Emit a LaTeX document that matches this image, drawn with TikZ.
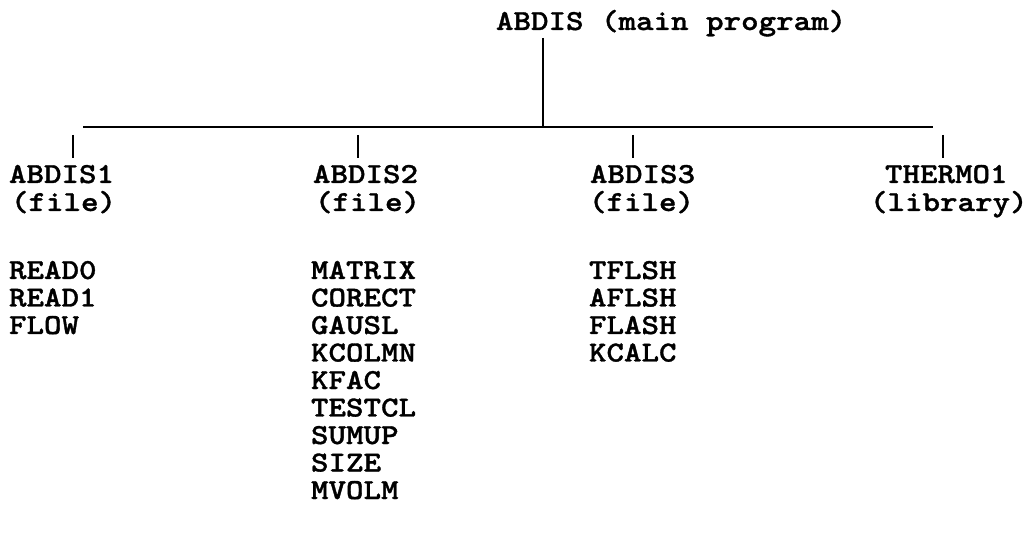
\documentclass[tikz,border=0pt]{standalone}
\usepackage{fontspec}
\newfontfamily\tw{lmmonolt10-bold.otf}[FakeStretch=1.15,FakeBold=1.2]
\begin{document}
\begin{tikzpicture}[x=1pt,y=-1pt,
  lbl/.style={anchor=base west,inner sep=0pt,outer sep=0pt,font=\tw\fontsize{29}{27.5}\selectfont},
  conn/.style={line width=1.8pt},
  tick/.style={line width=1.8pt}]
\useasboundingbox (0,0) rectangle (1034,537);
% title
\node[lbl] (main) at (496,30) {ABDIS (main program)};
\coordinate (mainfoot) at (543,38);
\coordinate (barL) at (83,127);
\coordinate (barR) at (933,127);
\coordinate (barM) at (543,127);
\draw[conn] (mainfoot) -- (barM);
\draw[conn] (barL) -- (barR);
% column headers
\node[lbl] (c1) at (9,183) {ABDIS1};
\node[lbl] (c1b) at (11,211) {(file)};
\node[lbl] (c2) at (313,183) {ABDIS2};
\node[lbl] (c2b) at (315,211) {(file)};
\node[lbl] (c3) at (590,183) {ABDIS3};
\node[lbl] (c3b) at (589,211) {(file)};
\node[lbl] (c4) at (885,183) {THERMO1};
\node[lbl] (c4b) at (870,211) {(library)};
% ticks
\foreach \x/\n in {73/t1,358/t2,633/t3,943/t4}{
  \coordinate (\n a) at (\x,135);
  \coordinate (\n b) at (\x,158);
  \draw[tick] (\n a) -- (\n b);
}
% lists
\foreach \s [count=\i from 0] in {READ0,READ1,FLOW}
  \node[lbl] (a\i) at (9,279+27.5*\i) {\s};
\foreach \s [count=\i from 0] in {MATRIX,CORECT,GAUSL,KCOLMN,KFAC,TESTCL,SUMUP,SIZE,MVOLM}
  \node[lbl] (b\i) at (311,279+27.5*\i) {\s};
\foreach \s [count=\i from 0] in {TFLSH,AFLSH,FLASH,KCALC}
  \node[lbl] (d\i) at (589,279+27.5*\i) {\s};
\end{tikzpicture}
\end{document}
